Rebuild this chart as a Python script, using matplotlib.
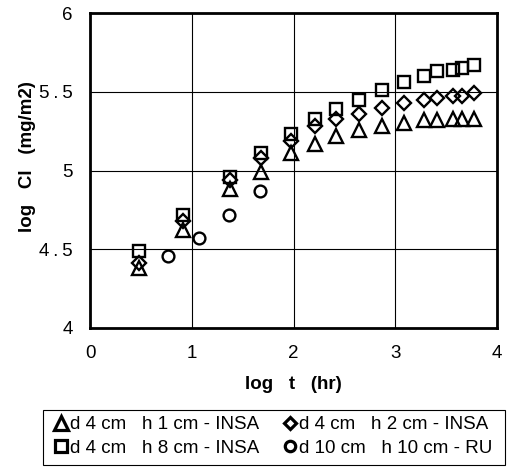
import matplotlib
matplotlib.use("Agg")
import matplotlib.pyplot as plt
from matplotlib.lines import Line2D
from matplotlib.patches import Rectangle

plt.rcParams['font.family'] = ['Liberation Sans', 'DejaVu Sans']

# log t (hr) and log Cl (mg/m2) per series
t_insa = [0.48, 0.91, 1.38, 1.68, 1.98, 2.21, 2.42, 2.64, 2.87, 3.09, 3.28, 3.41, 3.57, 3.66, 3.77]
cl_h1 = [4.38, 4.62, 4.88, 4.99, 5.11, 5.17, 5.22, 5.26, 5.28, 5.30, 5.32, 5.32, 5.33, 5.33, 5.33]
cl_h2 = [4.41, 4.68, 4.94, 5.08, 5.19, 5.28, 5.33, 5.36, 5.40, 5.43, 5.45, 5.46, 5.47, 5.47, 5.49]
cl_h8 = [4.49, 4.72, 4.96, 5.11, 5.23, 5.33, 5.39, 5.45, 5.51, 5.56, 5.60, 5.63, 5.64, 5.65, 5.67]
t_ru = [0.77, 1.07, 1.37, 1.67]
cl_ru = [4.46, 4.57, 4.72, 4.87]

labels = ["d 4 cm   h 1 cm - INSA", "d 4 cm   h 2 cm - INSA",
          "d 4 cm   h 8 cm - INSA", "d 10 cm   h 10 cm - RU"]
xticks = [0, 1, 2, 3, 4]
yticks = [4, 4.5, 5, 5.5, 6]
ytick_labels = ["4", "4\u2009.\u20095", "5", "5\u2009.\u20095", "6"]

W, H = 513, 470
fig = plt.figure(figsize=(W / 100, H / 100), dpi=100)
ax = fig.add_axes([90 / W, 1 - 328 / H, 407 / W, 315 / H])

common = dict(linestyle='none', markerfacecolor='none', markeredgecolor='black',
              markeredgewidth=1.7, zorder=3)
ax.plot(t_insa, cl_h1, marker='^', markersize=10.5, **common)
ax.plot(t_insa, cl_h2, marker='D', markersize=7.5, **common)
ax.plot(t_insa, cl_h8, marker='s', markersize=9, **common)
ax.plot(t_ru, cl_ru, marker='o', markersize=8.5, **common)

ax.set_xlim(0, 4)
ax.set_ylim(4, 6)
ax.set_xticks(xticks)
ax.set_yticks(yticks)
ax.set_yticklabels(ytick_labels)
ax.grid(True, color='black', linewidth=0.8)
ax.set_axisbelow(True)
ax.tick_params(length=0, labelsize=13.5, pad=12.5)
for s in ax.spines.values():
    s.set_linewidth(2.0)

ax.set_xlabel("log   t   (hr)", fontsize=13.5, fontweight='bold')
ax.set_ylabel("log   Cl   (mg/m2)", fontsize=13.5, fontweight='bold')
ax.xaxis.set_label_coords(0.499, (328 - 376) / 315)
ax.yaxis.set_label_coords((36 - 90) / 407, (328 - 157) / 315)

# legend handles, drawn with heavier outlines
lk = dict(linestyle='none', markerfacecolor='none', markeredgecolor='black',
          markeredgewidth=2.3)
hd_h1 = Line2D([], [], marker='^', markersize=10, **lk)
hd_h2 = Line2D([], [], marker='D', markersize=6.5, **lk)
hd_h8 = Line2D([], [], marker='s', markersize=8, **lk)
hd_ru = Line2D([], [], marker='o', markersize=7.5, **lk)

handles = [hd_h1, hd_h8, hd_h2, hd_ru]
leg_labels = [labels[0], labels[2], labels[1], labels[3]]
leg = fig.legend(handles, leg_labels, ncol=2, loc='center',
                 bbox_to_anchor=(274 / W, 1 - 436.5 / H),
                 borderaxespad=0, fontsize=13.5, frameon=False,
                 handlelength=0.6, handletextpad=0.2,
                 columnspacing=1.3, borderpad=0, labelspacing=0.35)

# rectangular frame around the legend
fig.patches.append(Rectangle((43 / W, 1 - 465 / H), 462 / W, 55 / H,
                             transform=fig.transFigure, fill=False,
                             edgecolor='black', linewidth=0.8))

fig.savefig("out.png", dpi=100)
